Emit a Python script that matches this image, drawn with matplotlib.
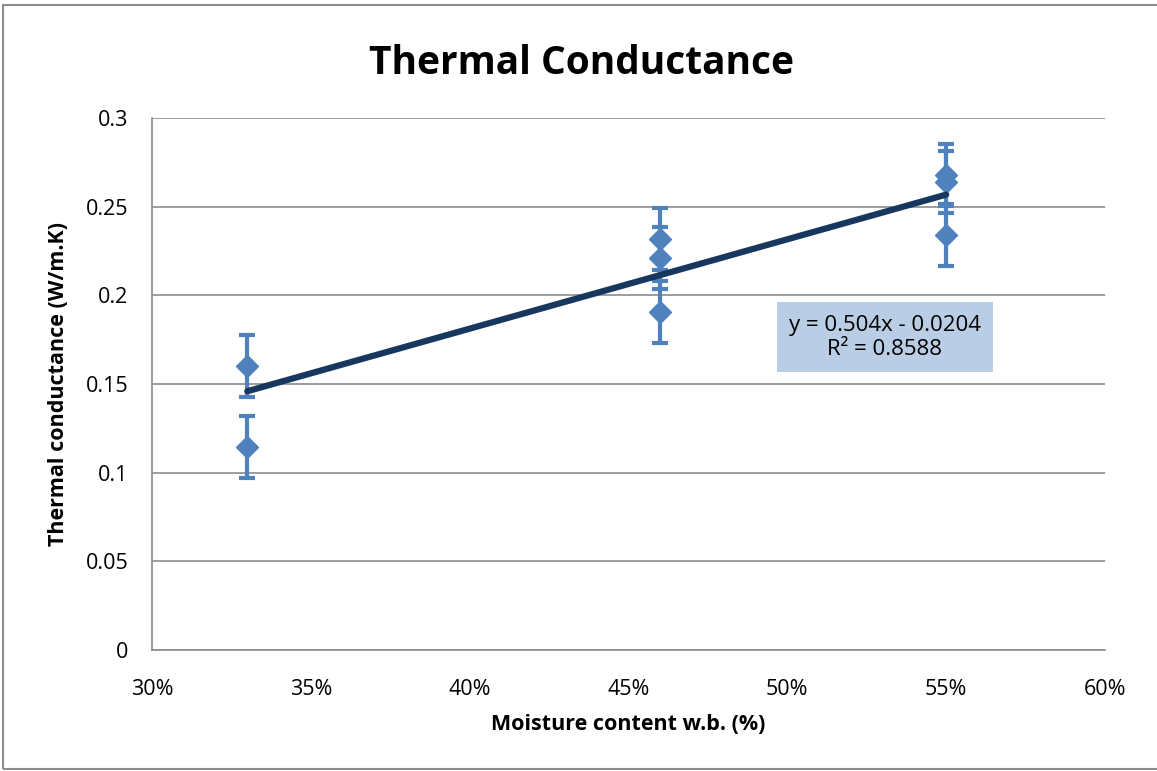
import matplotlib.pyplot as plt
from matplotlib.patches import Rectangle
from matplotlib.ticker import FuncFormatter

moisture = [0.33, 0.33, 0.46, 0.46, 0.46, 0.55, 0.55, 0.55]
conductance = [0.160, 0.1145, 0.232, 0.221, 0.1906, 0.268, 0.264, 0.234]
error = [0.0175] * 8

# Excel trendline as shown on the chart
slope = 0.504
intercept = -0.0204
r_squared = 0.8588

plt.rcParams['font.family'] = ['Open Sans', 'DejaVu Sans']

fig = plt.figure(figsize=(11.57, 7.71), dpi=100)
ax = fig.add_axes([152 / 1157, 1 - 650 / 771, 953 / 1157, 532 / 771])

# outer chart border
fig.patches.append(Rectangle((3 / 1157, 2 / 771), 1.1, 1 - 7 / 771,
                             transform=fig.transFigure, fill=False,
                             edgecolor='#8c8c8c', linewidth=1.5))

ax.errorbar(moisture, conductance, yerr=error, fmt='D', color='#4f81bd',
            markersize=11, elinewidth=3, capsize=6, capthick=3, zorder=3)

x_fit = [min(moisture), max(moisture)]
y_fit = [slope * x + intercept for x in x_fit]
ax.plot(x_fit, y_fit, color='#17375e', linewidth=4.5,
        solid_capstyle='round', zorder=4)

ax.set_xlim(0.30, 0.60)
ax.set_ylim(0, 0.3)
ax.set_xticks([0.30, 0.35, 0.40, 0.45, 0.50, 0.55, 0.60])
ax.set_yticks([0, 0.05, 0.1, 0.15, 0.2, 0.25, 0.3])
ax.set_yticklabels(['0', '0.05', '0.1', '0.15', '0.2', '0.25', '0.3'])
ax.xaxis.set_major_formatter(FuncFormatter(lambda v, p: f'{v * 100:.0f}%'))
ax.tick_params(length=0, labelsize=15.5)
ax.tick_params(axis='x', pad=21)
ax.tick_params(axis='y', pad=17)

ax.grid(axis='y', color='#8c8c8c', linewidth=1.2)
ax.set_axisbelow(True)
for s in ['top', 'right']:
    ax.spines[s].set_visible(False)
for s in ['left', 'bottom']:
    ax.spines[s].set_color('#8c8c8c')
    ax.spines[s].set_linewidth(1.2)

fig.suptitle('Thermal Conductance', x=0.503, y=1 - 63 / 771, va='center',
             fontsize=28, fontweight='bold')
ax.set_xlabel('Moisture content w.b. (%)', fontsize=15.5, fontweight='bold',
              labelpad=10)
ax.set_ylabel('Thermal conductance (W/m.K)', fontsize=15.5, fontweight='bold',
              labelpad=12)

ax.text(0.769, 0.588,
        f'y = {slope}x - {abs(intercept)}\nR² = {r_squared}',
        transform=ax.transAxes, ha='center', va='center', fontsize=16,
        linespacing=1.2,
        bbox=dict(boxstyle='square,pad=0.55', facecolor='#b9cde5',
                  edgecolor='none'), zorder=5)

fig.savefig('out.png', dpi=100)
